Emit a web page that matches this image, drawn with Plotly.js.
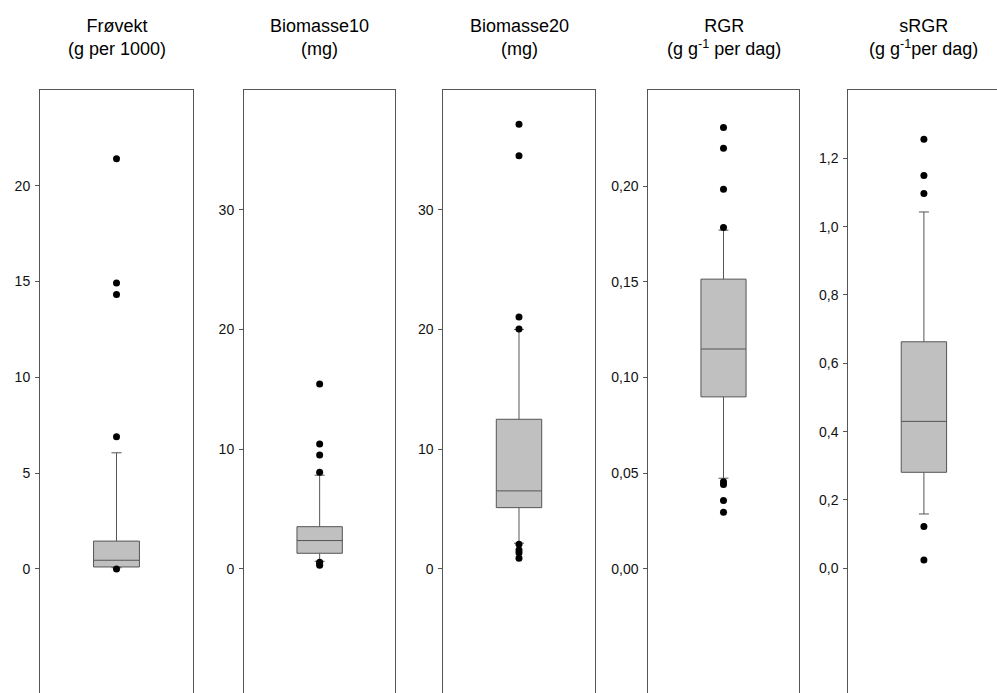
<!DOCTYPE html>
<html>
<head>
<meta charset="utf-8">
<script src="https://cdn.plot.ly/plotly-3.0.1.min.js"></script>
<style>
html, body { margin: 0; padding: 0; background: #fff; overflow: hidden; }
#chart { width: 1000px; height: 693px; }
</style>
</head>
<body>
<div id="chart"></div>
<script>
// ---- data ----
const titles = [
  "Frøvekt<br>(g per 1000)",
  "Biomasse10<br>(mg)",
  "Biomasse20<br>(mg)",
  "RGR<br>(g g<sup>-1</sup> per dag)",
  "sRGR<br>(g g<sup>-1</sup>per dag)"
];
const q1Values      = [0.10, 1.31, 5.12, 0.0899, 0.281];
const medianValues  = [0.45, 2.37, 6.52, 0.1149, 0.430];
const q3Values      = [1.45, 3.53, 12.5, 0.1514, 0.663];
const lowerWhisker  = [0.06, 0.64, 2.15, 0.0474, 0.159];
const upperWhisker  = [6.06, 7.83, 20.0, 0.177, 1.043];
const outliersFrovekt     = [21.41, 14.93, 14.32, 6.90, 0.0];
const outliersBiomasse10  = [15.45, 10.44, 9.52, 8.08, 0.56, 0.42, 0.30];
const outliersBiomasse20  = [37.15, 34.5, 21.05, 20.05, 2.06, 1.59, 1.36, 0.89];
const outliersRGR         = [0.2306, 0.2198, 0.1984, 0.1784, 0.0455, 0.0441, 0.0357, 0.0296];
const outliersSRGR        = [1.256, 1.150, 1.097, 0.122, 0.024];
const outlierSets = [outliersFrovekt, outliersBiomasse10, outliersBiomasse20, outliersRGR, outliersSRGR];
const tickVals = [
  [0, 5, 10, 15, 20],
  [0, 10, 20, 30],
  [0, 10, 20, 30],
  [0, 0.05, 0.10, 0.15, 0.20],
  [0, 0.2, 0.4, 0.6, 0.8, 1.0, 1.2]
];
const tickFormats = ["d", "d", "d", ".2f", ".1f"];

// ---- layout (positions/styles) ----
const W = 1000, H = 693, TOP = 90;
const domainsPx = [[40, 193], [244, 395.3], [443.3, 594.7], [648.3, 798.7], [848.3, 999.5]];
const yRanges = [[-6.48, 25.0], [-10.36, 40.0], [-10.36, 40.0], [-0.0648, 0.2502], [-0.365, 1.400]];
const frameColor = "#555555";

const data = [];
const layout = {
  width: W, height: H,
  margin: {l: 0, r: 0, t: TOP, b: 0, pad: 0},
  paper_bgcolor: "#ffffff", plot_bgcolor: "#ffffff",
  showlegend: false,
  separators: ",.",
  font: {family: "Liberation Sans, Arial, sans-serif", color: "#111111"},
  annotations: []
};

for (let i = 0; i < 5; i++) {
  const n = i === 0 ? "" : String(i + 1);
  const xa = "x" + n, ya = "y" + n;
  data.push({
    type: "box",
    x: [0],
    q1: [q1Values[i]], median: [medianValues[i]], q3: [q3Values[i]],
    lowerfence: [lowerWhisker[i]], upperfence: [upperWhisker[i]],
    boxpoints: false,
    width: 0.3,
    whiskerwidth: 0.22,
    fillcolor: "#c0c0c0",
    line: {color: "#555555", width: 1},
    xaxis: xa, yaxis: ya,
    hoverinfo: "skip"
  });
  data.push({
    type: "scatter", mode: "markers",
    x: outlierSets[i].map(() => 0),
    y: outlierSets[i],
    marker: {color: "#000000", size: 7},
    xaxis: xa, yaxis: ya,
    hoverinfo: "skip"
  });
  const d = [domainsPx[i][0] / W, domainsPx[i][1] / W];
  layout["xaxis" + n] = {
    domain: d, anchor: ya, range: [-0.5, 0.5],
    side: "top", showline: true, linecolor: frameColor, linewidth: 1,
    showticklabels: false, ticks: "", showgrid: false, zeroline: false, fixedrange: true
  };
  layout["yaxis" + n] = {
    domain: [0, 1], anchor: xa, range: yRanges[i],
    showline: true, mirror: true, linecolor: frameColor, linewidth: 1,
    ticks: "outside", ticklen: 4, tickcolor: frameColor,
    tickvals: tickVals[i], tickformat: tickFormats[i],
    ticklabelstandoff: 2,
    tickfont: {size: 14, color: "#111111", family: "Liberation Sans, Arial, sans-serif"},
    showgrid: false, zeroline: false, fixedrange: true
  };
  layout.annotations.push({
    text: titles[i], showarrow: false,
    xref: "paper", yref: "paper",
    x: (d[0] + d[1]) / 2, xanchor: "center",
    y: (H - 37.7) / (H - TOP), yanchor: "middle",
    align: "center",
    font: {size: 18, color: "#000000", family: "Liberation Sans, Arial, sans-serif"}
  });
}

Plotly.newPlot("chart", data, layout, {displayModeBar: false, staticPlot: true});
</script>
</body>
</html>
